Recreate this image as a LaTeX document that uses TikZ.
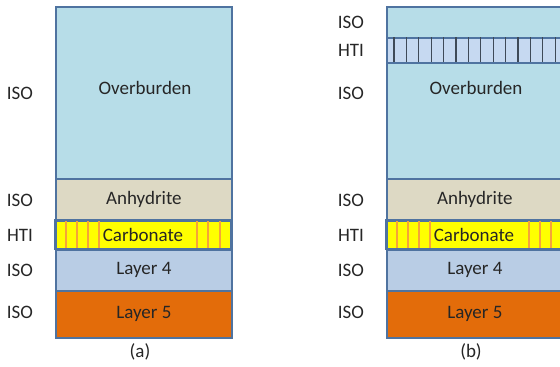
\documentclass[tikz,border=0pt]{standalone}
\usepackage{fontspec}
\setmainfont{Carlito}
\usepackage{tikz}

\definecolor{rimblue}{HTML}{4F73A0}
\definecolor{overfill}{HTML}{B7DDE8}
\definecolor{anhyfill}{HTML}{DDD9C4}
\definecolor{carbfill}{HTML}{FFFF00}
\definecolor{carbline}{HTML}{F5A33A}
\definecolor{fourfill}{HTML}{B9CDE5}
\definecolor{fivefill}{HTML}{E36C0A}
\definecolor{htifill}{HTML}{C6D9F1}
\definecolor{htiline}{HTML}{3F4A58}
\definecolor{txt}{HTML}{262626}

\begin{document}
\begin{tikzpicture}[x=1pt,y=-1pt,
		every node/.style={font=\fontsize{19}{22}\selectfont,text=txt},
		layer/.style={draw=rimblue,line width=1.8pt,minimum width=176pt,inner sep=0pt,anchor=north west},
		stripe/.style={draw=carbline,line width=1.1pt},
		hatch/.style={draw=htiline,line width=1.2pt}]
	\useasboundingbox (0,0) rectangle (560,367);

	% left column (a)
	\node (over a) [layer,fill=overfill,minimum height=172pt] at (55,6) {};
	\node (anhy a) [layer,fill=anhyfill,minimum height=42pt] at (55,178) {Anhydrite};
	\node (carb a) [layer,fill=carbfill,minimum height=29pt] at (55,220) {};
	\draw[stripe] (66,220) -- (66,249);
	\draw[stripe] (77,220) -- (77,249);
	\draw[stripe] (88,220) -- (88,249);
	\draw[stripe] (99,220) -- (99,249);
	\draw[stripe] (197,220) -- (197,249);
	\draw[stripe] (208,220) -- (208,249);
	\draw[stripe] (220,220) -- (220,249);
	\draw[draw=rimblue,line width=1.8pt] (55,220) rectangle (231,249);
	\node (carb a text) at (143,235) {Carbonate};
	\node (four a) [layer,fill=fourfill,minimum height=41pt] at (55,249) {Layer 4};
	\node (five a) [layer,fill=fivefill,minimum height=47pt] at (55,290) {Layer 5};
	\node (over a text) at (145,88) {Overburden};

	\node (iso1 a) at (20,93) {ISO};
	\node (iso2 a) at (20,200) {ISO};
	\node (hti a) at (20,235) {HTI};
	\node (iso3 a) at (20,270) {ISO};
	\node (iso4 a) at (20,312) {ISO};
	\node (cap a) at (140,352) {(a)};

	% right column (b)
	\node (over b) [layer,fill=overfill,minimum height=172pt] at (386,6) {};
	\node (band b) [layer,fill=htifill,minimum height=25pt] at (386,37) {};
	\draw[hatch] (394,37) -- (394,62);
	\draw[hatch] (406.4,37) -- (406.4,62);
	\draw[hatch] (418.8,37) -- (418.8,62);
	\draw[hatch] (431.2,37) -- (431.2,62);
	\draw[hatch] (443.6,37) -- (443.6,62);
	\draw[hatch] (456,37) -- (456,62);
	\draw[hatch] (468.4,37) -- (468.4,62);
	\draw[hatch] (480.8,37) -- (480.8,62);
	\draw[hatch] (493.2,37) -- (493.2,62);
	\draw[hatch] (505.6,37) -- (505.6,62);
	\draw[hatch] (518,37) -- (518,62);
	\draw[hatch] (530.4,37) -- (530.4,62);
	\draw[hatch] (542.8,37) -- (542.8,62);
	\draw[hatch] (555.2,37) -- (555.2,62);
	\node (anhy b) [layer,fill=anhyfill,minimum height=42pt] at (386,178) {Anhydrite};
	\node (carb b) [layer,fill=carbfill,minimum height=29pt] at (386,220) {};
	\draw[stripe] (397,220) -- (397,249);
	\draw[stripe] (408,220) -- (408,249);
	\draw[stripe] (419,220) -- (419,249);
	\draw[stripe] (430,220) -- (430,249);
	\draw[stripe] (529,220) -- (529,249);
	\draw[stripe] (540,220) -- (540,249);
	\draw[stripe] (551,220) -- (551,249);
	\draw[draw=rimblue,line width=1.8pt] (386,220) rectangle (562,249);
	\node (carb b text) at (474,235) {Carbonate};
	\node (four b) [layer,fill=fourfill,minimum height=41pt] at (386,249) {Layer 4};
	\node (five b) [layer,fill=fivefill,minimum height=47pt] at (386,290) {Layer 5};
	\node (over b text) at (476,88) {Overburden};

	\node (iso0 b) at (351,22) {ISO};
	\node (hti0 b) at (351,50) {HTI};
	\node (iso1 b) at (351,93) {ISO};
	\node (iso2 b) at (351,200) {ISO};
	\node (hti b) at (351,235) {HTI};
	\node (iso3 b) at (351,270) {ISO};
	\node (iso4 b) at (351,312) {ISO};
	\node (cap b) at (471,352) {(b)};
\end{tikzpicture}
\end{document}
